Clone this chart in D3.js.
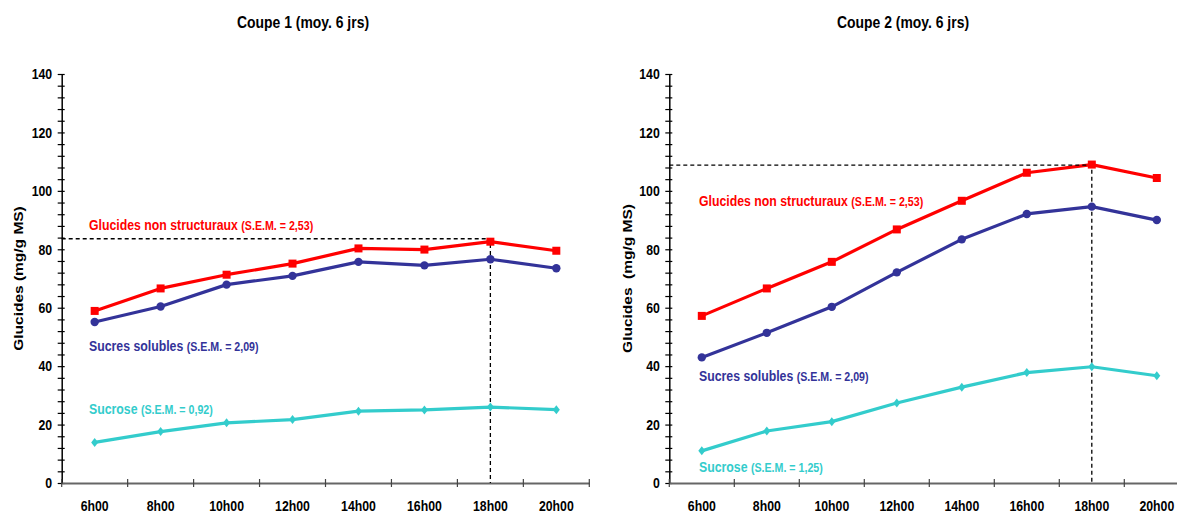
<!DOCTYPE html>
<html>
<head>
<meta charset="utf-8">
<script src="https://cdn.jsdelivr.net/npm/d3@7"></script>
<style>
  body { margin: 0; background: #fff; }
  svg { display: block; }
  text { font-family: "Liberation Sans", Arial, sans-serif; font-weight: bold; }
</style>
</head>
<body>
<div id="chart"></div>
<script>
// values (mg/g MS)
var hours = ["6h00", "8h00", "10h00", "12h00", "14h00", "16h00", "18h00", "20h00"];

var coupe1Glucides = [58.9, 66.6, 71.3, 75.1, 80.3, 79.9, 82.6, 79.5];
var coupe1Sucres   = [55.1, 60.4, 67.9, 70.9, 75.7, 74.5, 76.6, 73.5];
var coupe1Sucrose  = [13.9, 17.6, 20.6, 21.7, 24.6, 25.0, 26.0, 25.1];

var coupe2Glucides = [57.2, 66.6, 75.7, 86.8, 96.6, 106.2, 109.0, 104.4];
var coupe2Sucres   = [43.0, 51.4, 60.3, 72.1, 83.4, 92.1, 94.6, 90.0];
var coupe2Sucrose  = [11.0, 17.8, 21.0, 27.4, 32.8, 37.8, 39.8, 36.7];

var yMajorTicks = [0, 20, 40, 60, 80, 100, 120, 140];
var yMinorStep = 4;

var titles = ["Coupe 1 (moy. 6 jrs)", "Coupe 2 (moy. 6 jrs)"];
var yTitles = ["Glucides (mg/g MS)", "Glucides  (mg/g MS)"];
var seriesNames = ["Glucides non structuraux", "Sucres solubles", "Sucrose"];
var semCoupe1 = ["2,53", "2,09", "0,92"];
var semCoupe2 = ["2,53", "2,09", "1,25"];
var peakLevels = [83.6, 108.8];
var peakHour = "18h00";

var colors = ["#ff0000", "#333399", "#33cccc"];
var squish = 0.82;   // the original picture is horizontally compressed

var width = 1177, height = 514;
var svg = d3.select("#chart").append("svg")
  .attr("width", width)
  .attr("height", height);

var y = d3.scaleLinear().domain([0, 140]).range([483, 74]);

var panels = [
  { x0: 61.7, x1: 589.3, titleX: 303, yTitleX: 23, labelX: 89, labelY: [230, 351, 414],
    series: [coupe1Glucides, coupe1Sucres, coupe1Sucrose], sem: semCoupe1 },
  { x0: 669.3, x1: 1189.3, titleX: 903, yTitleX: 632, labelX: 699, labelY: [206, 381, 472],
    series: [coupe2Glucides, coupe2Sucres, coupe2Sucrose], sem: semCoupe2 }
];

panels.forEach(function(p, i) {
  var g = svg.append("g");
  var x = d3.scaleBand().domain(hours).range([p.x0, p.x1]);
  var cx = function(h) { return x(h) + x.bandwidth() / 2; };

  // title
  g.append("text")
    .attr("transform", "translate(" + p.titleX + ",28) scale(" + squish + ",1)")
    .attr("text-anchor", "middle")
    .attr("font-size", 17)
    .text(titles[i]);

  // y axis title
  g.append("text")
    .attr("transform", "translate(" + p.yTitleX + "," + y(70) + ") rotate(-90) scale(1," + squish + ")")
    .attr("text-anchor", "middle")
    .attr("font-size", 15.5)
    .style("white-space", "pre")
    .text(yTitles[i]);

  // y axis: minor cross ticks
  var yMinor = g.append("g")
    .attr("transform", "translate(" + p.x0 + ",0)")
    .call(d3.axisLeft(y).tickValues(d3.range(0, 141, yMinorStep)).tickSize(4).tickSizeOuter(0).tickFormat(""));
  yMinor.select(".domain").attr("stroke", "#000").attr("stroke-width", 1.5);
  yMinor.selectAll(".tick line").attr("x1", 3).attr("stroke-width", 1.2);

  // y axis labels
  var yLab = g.append("g")
    .attr("transform", "translate(" + p.x0 + ",0)")
    .call(d3.axisLeft(y).tickValues(yMajorTicks).tickSize(0).tickPadding(9.5));
  yLab.attr("font-family", null).attr("font-size", 15);
  yLab.select(".domain").remove();
  yLab.selectAll("text")
    .attr("transform", "scale(" + squish + ",1)")
    .attr("x", -9.5 / squish)
    .attr("fill", "#000");

  // x axis
  var xAxis = g.append("g")
    .attr("transform", "translate(0," + y(0) + ")")
    .call(d3.axisBottom(x).tickSize(0).tickPadding(17));
  xAxis.attr("font-family", null).attr("font-size", 15);
  xAxis.select(".domain").attr("stroke", "#666").attr("stroke-width", 2);
  xAxis.selectAll("text").attr("transform", "scale(" + squish + ",1)").attr("fill", "#000");
  xAxis.selectAll(".bound")
    .data(hours.map(function(h) { return x(h); }).concat([x.range()[1]]))
    .enter().append("line")
    .attr("class", "bound")
    .attr("x1", function(d) { return d; })
    .attr("x2", function(d) { return d; })
    .attr("y1", -4).attr("y2", 4)
    .attr("stroke", "#444").attr("stroke-width", 1.2);

  // series lines
  var line = d3.line()
    .x(function(d, k) { return cx(hours[k]); })
    .y(function(d) { return y(d); });

  p.series.forEach(function(vals, s) {
    g.append("path")
      .datum(vals)
      .attr("d", line)
      .attr("fill", "none")
      .attr("stroke", colors[s])
      .attr("stroke-width", 3.2)
      .attr("stroke-linejoin", "round");
  });

  // dashed guide to the peak
  var px = cx(peakHour), py = y(peakLevels[i]);
  g.append("path")
    .attr("d", "M" + p.x0 + "," + py + "H" + px + "V" + y(0))
    .attr("fill", "none")
    .attr("stroke", "#000")
    .attr("stroke-width", 1.3)
    .attr("stroke-dasharray", "4,3");

  // markers
  g.selectAll(".sq")
    .data(p.series[0]).enter().append("rect")
    .attr("x", function(d, k) { return cx(hours[k]) - 4; })
    .attr("y", function(d) { return y(d) - 4; })
    .attr("width", 8).attr("height", 8)
    .attr("fill", colors[0]);

  g.selectAll(".ci")
    .data(p.series[1]).enter().append("circle")
    .attr("cx", function(d, k) { return cx(hours[k]); })
    .attr("cy", function(d) { return y(d); })
    .attr("r", 4.2)
    .attr("fill", colors[1]);

  g.selectAll(".di")
    .data(p.series[2]).enter().append("path")
    .attr("transform", function(d, k) { return "translate(" + cx(hours[k]) + "," + y(d) + ")"; })
    .attr("d", "M0,-4.5L3.5,0L0,4.5L-3.5,0Z")
    .attr("fill", colors[2]);

  // series labels
  seriesNames.forEach(function(name, s) {
    var t = g.append("text")
      .attr("transform", "translate(" + p.labelX + "," + p.labelY[s] + ") scale(" + squish + ",1)")
      .attr("fill", colors[s]);
    t.append("tspan").attr("font-size", 15).text(name + " ");
    t.append("tspan").attr("font-size", 13).text("(S.E.M. = " + p.sem[s] + ")");
  });
});
</script>
</body>
</html>
